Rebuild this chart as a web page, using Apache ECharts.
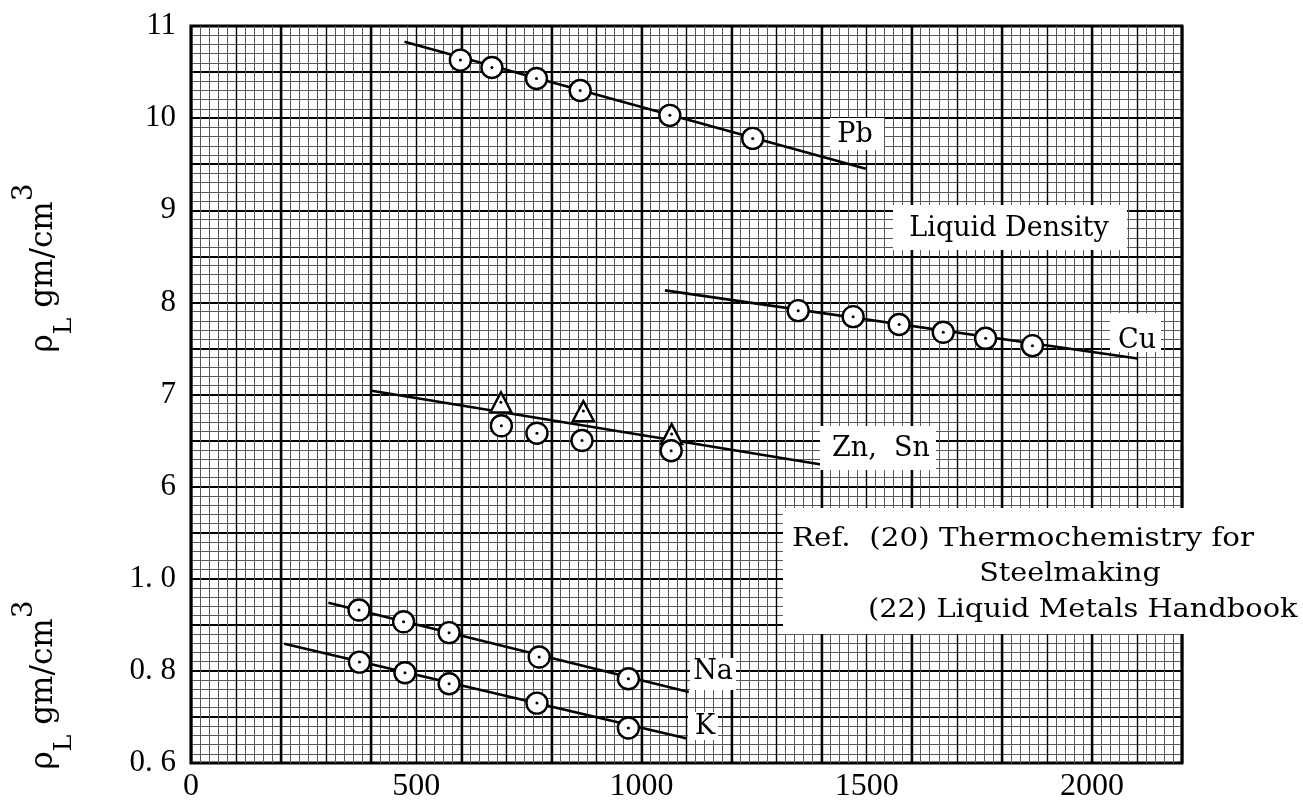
<!DOCTYPE html>
<html>
<head>
<meta charset="utf-8">
<script src="https://cdn.jsdelivr.net/npm/echarts@6/dist/echarts.min.js"></script>
<style>
  html, body { margin: 0; padding: 0; background: #fff; }
  #chart { width: 1303px; height: 810px; }
</style>
</head>
<body>
<div id="chart"></div>
<script>
// Liquid density of metals vs temperature (K), density in gm/cm^3

// Upper scale (6 - 11 gm/cm^3)
const pbT   = [598, 668, 767, 864, 1063, 1247];
const pbRho = [10.63, 10.55, 10.43, 10.30, 10.03, 9.78];
const pbFit = [[474, 10.83], [1498, 9.45]];

const cuT   = [1348, 1470, 1572, 1670, 1764, 1868];
const cuRho = [7.91, 7.845, 7.76, 7.675, 7.61, 7.53];
const cuFit = [[1052, 8.13], [2101, 7.39]];

const snT   = [688, 871, 1067];            // triangles
const snRho = [6.915, 6.82, 6.57];
const znT   = [689, 768, 868, 1066];       // circles
const znRho = [6.66, 6.58, 6.50, 6.39];
const znSnFit = [[401, 7.04], [1399, 6.24]];

// Lower scale (0.6 - 1.0 gm/cm^3)
const naT   = [373, 472, 573, 773, 971];
const naRho = [0.932, 0.9065, 0.883, 0.830, 0.783];
const naFit = [[305, 0.948], [1105, 0.754]];

const kT    = [374, 475, 573, 768, 971];
const kRho  = [0.819, 0.796, 0.772, 0.730, 0.676];
const kFit  = [[207, 0.859], [1101, 0.653]];

// Axis ranges and tick labels
const xMin = 0, xMax = 2200;
const xLabelStep = 500;
const upperLabels = [6, 7, 8, 9, 10, 11];
const lowerLabels = [0.6, 0.8, 1.0];

const pairs = (xs, ys) => xs.map((x, i) => [x, ys[i]]);

const SERIF = '"DejaVu Serif", "Liberation Serif", serif';
const NUM = '"Liberation Serif", "DejaVu Serif", serif';

const chart = echarts.init(document.getElementById('chart'), null, { renderer: 'canvas' });

function ring(data, xi, yi, shape) {
  return {
    type: 'scatter', xAxisIndex: xi, yAxisIndex: yi, data,
    symbol: shape || 'circle',
    symbolSize: shape === 'triangle' ? [21, 20] : 21,
    itemStyle: { color: '#fff', borderColor: '#000', borderWidth: 2.4, opacity: 1 },
    z: 5, silent: true
  };
}
function dot(data, xi, yi) {
  return {
    type: 'scatter', xAxisIndex: xi, yAxisIndex: yi, data,
    symbol: 'circle', symbolSize: 3,
    itemStyle: { color: '#000', opacity: 1 }, z: 6, silent: true
  };
}
function fit(data, xi, yi) {
  return {
    type: 'line', xAxisIndex: xi, yAxisIndex: yi, data,
    symbol: 'none', lineStyle: { color: '#000', width: 2.6 },
    z: 3, silent: true, animation: false
  };
}

function box(x, y, w, h) {
  return { type: 'rect', shape: { x, y, width: w, height: h }, style: { fill: '#fff' }, z: 50 };
}
function label(text, x, y, opts) {
  opts = opts || {};
  return {
    type: 'text', x, y, z: 51, scaleX: opts.scaleX || 1,
    style: {
      text, x: 0, y: 0,
      font: (opts.size || 27) + 'px ' + SERIF,
      fill: '#000',
      align: opts.align || 'center', textAlign: opts.align || 'center',
      verticalAlign: 'middle', textVerticalAlign: 'middle'
    }
  };
}
function yTitle(cy) {
  return {
    type: 'text', x: 44, y: cy, rotation: Math.PI / 2, z: 51,
    style: {
      text: '{a|ρ}{b|L}{a| gm/cm}{c|3}', x: 0, y: 0,
      align: 'center', textAlign: 'center',
      verticalAlign: 'middle', textVerticalAlign: 'middle',
      fill: '#000',
      rich: {
        a: { fontFamily: SERIF, fontSize: 31, lineHeight: 66, verticalAlign: 'middle', fill: '#000', color: '#000' },
        b: { fontFamily: SERIF, fontSize: 25, lineHeight: 26, verticalAlign: 'bottom', fill: '#000', color: '#000' },
        c: { fontFamily: SERIF, fontSize: 28, lineHeight: 28, verticalAlign: 'top', fill: '#000', color: '#000' }
      }
    }
  };
}

const option = {
  backgroundColor: '#fff',
  animation: false,
  grid: [
    { left: 191, top: 26, width: 991, height: 737, show: true,
      borderColor: '#000', borderWidth: 3 },
    { left: 191, top: 578.75, width: 991, height: 184.25, show: false }
  ],
  xAxis: [
    { gridIndex: 0, type: 'value', min: xMin, max: xMax, interval: 100,
      axisLine: { show: false }, axisTick: { show: false },
      axisLabel: {
        formatter: v => (v % xLabelStep === 0 ? String(v) : ''),
        fontFamily: NUM, fontSize: 32, color: '#000', margin: 8
      },
      splitLine: { show: true, lineStyle: { color: '#000', width: 1.4 } },
      minorTick: { show: false, splitNumber: 5 },
      minorSplitLine: { show: true, lineStyle: { color: '#5a5a5a', width: 1 } }
    },
    { gridIndex: 0, type: 'value', min: xMin, max: xMax, interval: 200,
      axisLine: { show: false }, axisTick: { show: false }, axisLabel: { show: false },
      splitLine: { show: true, lineStyle: { color: '#000', width: 2.4 } }
    },
    { gridIndex: 1, type: 'value', min: xMin, max: xMax, show: false }
  ],
  yAxis: [
    { gridIndex: 0, type: 'value', min: 3, max: 11, interval: 0.5,
      axisLine: { show: false }, axisTick: { show: false },
      axisLabel: {
        formatter: v => (upperLabels.indexOf(v) >= 0 ? String(v) : ''),
        fontFamily: NUM, fontSize: 31, color: '#000', margin: 15
      },
      splitLine: { show: true, lineStyle: { color: '#000', width: 1.8 } },
      minorTick: { show: false, splitNumber: 5 },
      minorSplitLine: { show: true, lineStyle: { color: '#5a5a5a', width: 1 } }
    },
    { gridIndex: 1, type: 'value', min: 0.6, max: 1.0, interval: 0.2,
      axisLine: { show: false }, axisTick: { show: false }, splitLine: { show: false },
      axisLabel: {
        formatter: v => {
          const r = Math.round(v * 10) / 10;
          return lowerLabels.indexOf(r) >= 0 ? r.toFixed(1).replace('.', '. ') : '';
        },
        fontFamily: NUM, fontSize: 31, color: '#000', margin: 15
      }
    }
  ],
  series: [
    fit(pbFit, 0, 0), ring(pairs(pbT, pbRho), 0, 0), dot(pairs(pbT, pbRho), 0, 0),
    fit(cuFit, 0, 0), ring(pairs(cuT, cuRho), 0, 0), dot(pairs(cuT, cuRho), 0, 0),
    fit(znSnFit, 0, 0),
    ring(pairs(snT, snRho), 0, 0, 'triangle'), dot(pairs(snT, snRho), 0, 0),
    ring(pairs(znT, znRho), 0, 0), dot(pairs(znT, znRho), 0, 0),
    fit(naFit, 2, 1), ring(pairs(naT, naRho), 2, 1), dot(pairs(naT, naRho), 2, 1),
    fit(kFit, 2, 1), ring(pairs(kT, kRho), 2, 1), dot(pairs(kT, kRho), 2, 1)
  ],
  graphic: [
    yTitle(268),
    yTitle(685),
    box(830, 118, 54, 32), label('Pb', 855, 135),
    box(893, 205, 234, 45), label('Liquid Density', 1009, 229),
    box(1110, 313, 51, 39), label('Cu', 1137, 341),
    box(820, 426, 116, 44), label('Zn,  Sn', 881, 449),
    box(690, 658, 46, 32), label('Na', 713, 672),
    box(688, 712, 30, 28), label('K', 705, 727),
    box(783, 508, 520, 126),
    label('Ref.  (20) Thermochemistry for', 792, 539, { align: 'left', size: 26, scaleX: 1.13 }),
    label('Steelmaking', 1070, 574, { size: 26, scaleX: 1.1 }),
    label('(22) Liquid Metals Handbook', 868, 610, { align: 'left', size: 26, scaleX: 1.11 })
  ]
};

chart.setOption(option);
</script>
</body>
</html>
